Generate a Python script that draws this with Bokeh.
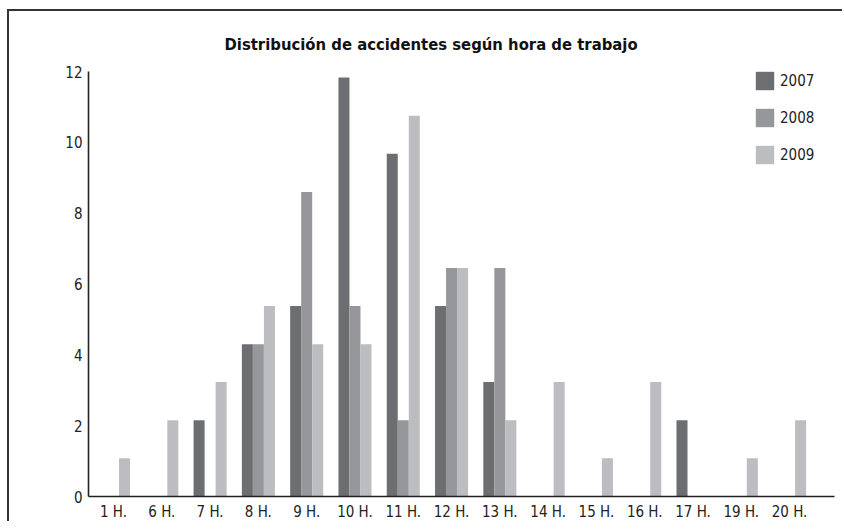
from bokeh.plotting import figure
from bokeh.models import Range1d, FixedTicker, Legend
from bokeh.embed import file_html
from bokeh.resources import INLINE

hours = ["1 H.", "6 H.", "7 H.", "8 H.", "9 H.", "10 H.", "11 H.", "12 H.",
         "13 H.", "14 H.", "15 H.", "16 H.", "17 H.", "19 H.", "20 H."]
y2007 = [0, 0, 2.15, 4.30, 5.38, 11.83, 9.68, 5.38, 3.23, 0, 0, 0, 2.15, 0, 0]
y2008 = [0, 0, 0, 4.30, 8.60, 5.38, 2.15, 6.45, 6.45, 0, 0, 0, 0, 0, 0]
y2009 = [1.08, 2.15, 3.23, 5.38, 4.30, 4.30, 10.75, 6.45, 2.15, 3.23, 1.08, 3.23, 0, 1.08, 2.15]
years = ["2007", "2008", "2009"]
colors = ["#6d6e72", "#96979b", "#bcbdc1"]
title_text = "Distribución de accidentes según hora de trabajo"

FONT = "'DejaVu Sans Condensed', sans-serif"

p = figure(width=835, height=512, output_backend="svg", toolbar_location=None,
           x_range=Range1d(-0.518, 14.93), y_range=Range1d(0, 12),
           min_border_left=79, min_border_right=10, min_border_top=60, min_border_bottom=25)
p.styles = {"box-shadow": "-2px -2px 0px 0px #333333",
            "margin-left": "9px", "margin-top": "11px"}
p.outline_line_color = None
p.xgrid.grid_line_color = None
p.ygrid.grid_line_color = None
p.background_fill_color = "white"
p.border_fill_color = "white"

p.title.text = title_text
p.title.align = "left"
p.title.offset = 136
p.title.vertical_align = "top"
p.title.standoff = 32
p.title.text_font = FONT
p.title.text_font_size = "16.5px"
p.title.text_font_style = "bold"
p.title.text_color = "#111111"

idx = list(range(len(hours)))
bw = 0.228
renderers = []
for k, (yr, vals, c) in enumerate(zip(years, [y2007, y2008, y2009], colors)):
    xs = [i + (k - 1) * bw for i in idx]
    r = p.vbar(x=xs, top=vals, width=bw, bottom=0, fill_color=c, line_color=None)
    renderers.append((yr, [r]))

legend = Legend(items=renderers, location=(665, 330), orientation="vertical",
                glyph_width=23, glyph_height=23, spacing=14, padding=0, margin=0,
                label_standoff=4, label_text_font=FONT, label_text_font_size="15px",
                label_text_color="#222222", border_line_color=None, background_fill_alpha=0,
                label_height=23)
p.add_layout(legend)

p.xaxis.ticker = FixedTicker(ticks=idx)
p.xaxis.major_label_overrides = {i: h for i, h in enumerate(hours)}
p.yaxis.ticker = FixedTicker(ticks=[0, 2, 4, 6, 8, 10, 12])
for ax in (p.xaxis, p.yaxis):
    ax.major_tick_out = 0
    ax.major_tick_in = 0
    ax.minor_tick_out = 0
    ax.minor_tick_in = 0
    ax.axis_line_color = "#222222"
    ax.axis_line_width = 1.6
    ax.major_label_text_font = FONT
    ax.major_label_text_font_size = "15px"
    ax.major_label_text_color = "#222222"
p.xaxis.major_label_standoff = 6
p.yaxis.major_label_standoff = 6

open("out.html", "w").write(file_html(p, INLINE))
